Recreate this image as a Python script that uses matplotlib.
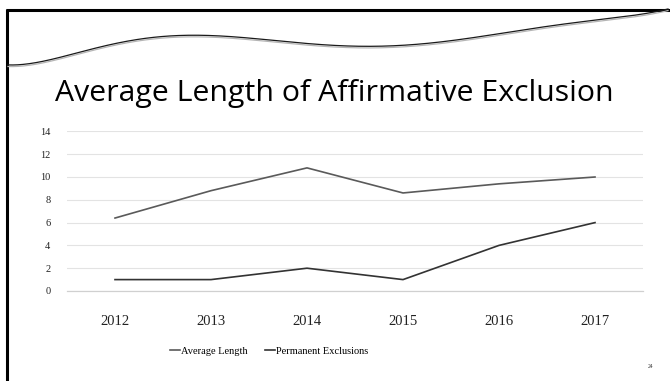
import matplotlib
matplotlib.use("Agg")
import matplotlib.pyplot as plt
import numpy as np
from matplotlib.lines import Line2D

years = ["2012", "2013", "2014", "2015", "2016", "2017"]
average_length = [6.4, 8.8, 10.8, 8.6, 9.4, 10.0]
permanent_exclusions = [1, 1, 2, 1, 4, 6]
y_ticks = [0, 2, 4, 6, 8, 10, 12, 14]

W, H = 670, 381
fig = plt.figure(figsize=(W / 100, H / 100), dpi=100)
fig.patch.set_facecolor("white")

# slide decoration (frame + wave) in pixel coordinates
deco = fig.add_axes([0, 0, 1, 1])
deco.set_xlim(0, W)
deco.set_ylim(H, 0)
deco.axis("off")
deco.plot([6, W], [9.5, 9.5], color="black", lw=2.2, solid_capstyle="butt")
deco.plot([6.5, 6.5], [9, H], color="black", lw=2.2, solid_capstyle="butt")

# smooth wave across the top of the slide
wx = np.array([8, 60, 110, 160, 210, 260, 310, 350, 400, 450, 500, 560, 620, 668])
wy = np.array([65, 57, 45, 37, 35, 39, 44, 46, 45.5, 41, 33, 25, 17, 9])
coef = np.polyfit(wx / W, wy, 6)
xs = np.linspace(8, 668, 400)
ys = np.polyval(coef, xs / W)
deco.plot(xs, ys + 1.6, color="#b5b5b5", lw=0.9)
deco.plot(xs, ys, color="#1a1a1a", lw=0.9)

deco.text(334, 93, "Average Length of Affirmative Exclusion", fontsize=21.8,
          family="Open Sans", ha="center", va="center", color="black")
deco.text(650, 367, "24", fontsize=4, family="Liberation Serif",
          ha="center", va="center", color="#333333")

# chart
ax = fig.add_axes([67 / W, 1 - 291 / H, (643 - 67) / W, (291 - 131.4) / H])
x = list(range(len(years)))
ax.plot(x, average_length, color="#5a5a5a", lw=1.2, label="Average Length")
ax.plot(x, permanent_exclusions, color="#333333", lw=1.2, label="Permanent Exclusions")
ax.set_xlim(-0.5, len(years) - 0.5)
ax.set_ylim(0, 14)
ax.set_yticks(y_ticks)
ax.set_xticks(x)
ax.set_xticklabels(years, family="Liberation Serif", fontsize=10.5)
ax.set_yticklabels([str(v) for v in y_ticks], family="Liberation Serif", fontsize=7.5)
ax.tick_params(axis="both", length=0, colors="#222222")
ax.tick_params(axis="x", pad=17)
ax.tick_params(axis="y", pad=12)
ax.grid(axis="y", color="#e3e3e3", lw=0.8)
ax.set_axisbelow(True)
for s in ["top", "right", "left"]:
    ax.spines[s].set_visible(False)
ax.spines["bottom"].set_color("#d0d0d0")
ax.spines["bottom"].set_linewidth(0.9)

handles = [Line2D([0], [0], color="#5a5a5a", lw=1.2),
           Line2D([0], [0], color="#333333", lw=1.2)]
fig.legend(handles, ["Average Length", "Permanent Exclusions"], loc="center",
           bbox_to_anchor=(269 / W, 1 - 351 / H), ncol=2, frameon=False,
           prop={"family": "Liberation Serif", "size": 7.5}, handlelength=1.0,
           handletextpad=0.1, columnspacing=1.6)

fig.savefig("out.png", dpi=100, facecolor="white")
